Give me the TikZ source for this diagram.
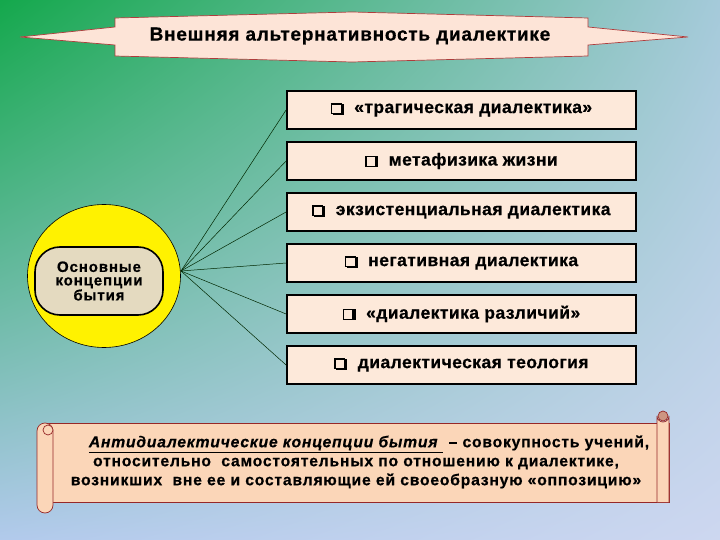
\documentclass[tikz,border=0pt]{standalone}
\usepackage{fontspec}
\setmainfont{Liberation Sans}
\usetikzlibrary{shapes.geometric,shadings}
\definecolor{bgTL}{RGB}{20,168,76}
\definecolor{bgTR}{RGB}{165,202,218}
\definecolor{bgBL}{RGB}{178,202,236}
\definecolor{bgBR}{RGB}{205,215,240}
\definecolor{boxfill}{RGB}{253,233,218}
\definecolor{bannerfill}{RGB}{253,228,215}
\definecolor{bannerline}{RGB}{175,60,60}
\definecolor{corefill}{RGB}{228,218,192}
\definecolor{scrollfill}{RGB}{251,214,184}
\definecolor{scrollline}{RGB}{150,40,40}
\definecolor{curlfill}{RGB}{205,150,130}
\newcommand\qbox{\rlap{\kern1.8pt\raisebox{-1.8pt}{\rule{11pt}{11pt}}}{\fboxsep=0pt\fboxrule=1.3pt\fcolorbox{black}{boxfill}{\rule{0pt}{8.4pt}\rule{8.4pt}{0pt}}}\kern1.8pt}
\begin{document}
\begin{tikzpicture}[x=1pt,y=-1pt,
  itembox/.style={draw=black, line width=1.8pt, fill=boxfill, minimum width=349pt,
    minimum height=38pt, inner sep=0pt,
    font=\bfseries\fontsize{17.5}{18}\selectfont\addfontfeature{LetterSpace=2.5,FakeBold=0.6}},
  fanline/.style={line width=0.5pt, draw=black!85!green},
  scrl/.style={draw=scrollline, line width=0.7pt, fill=scrollfill}]
\useasboundingbox (0,0) rectangle (720,540);
\shade[upper left=bgTL, upper right=bgTR, lower left=bgBL, lower right=bgBR] (0,0) rectangle (720,540);

% title banner
\draw[draw=bannerline, line width=0.7pt, fill=bannerfill]
  (20,37) -- (115,27) -- (115,18) -- (352,12) -- (588,18) -- (588,27) -- (688,37)
  -- (588,45) -- (588,56) -- (352,62) -- (115,56) -- (115,45) -- cycle;
\node[font=\bfseries\fontsize{19}{20}\selectfont\addfontfeature{LetterSpace=4,FakeBold=0.6}] (title) at (350,36) {Внешняя альтернативность диалектике};

% circle
\node[ellipse, draw=black, line width=0.6pt, fill=yellow, minimum width=153pt, minimum height=143pt, inner sep=0pt] (circ) at (104,276) {};
\node[draw=black, line width=1.6pt, rounded corners=25pt, fill=corefill, minimum width=128pt, minimum height=68pt, inner sep=0pt, align=center,
  font=\bfseries\fontsize{15}{13.5}\selectfont\addfontfeature{LetterSpace=6,FakeBold=0.6}] (core) at (99,281) {Основные\\концепции\\бытия};
\coordinate (hub) at (181,271);

% boxes
\node[itembox] (b1) at (461.5,110) {\qbox\ \ «трагическая диалектика»};
\node[itembox] (b2) at (461.5,161) {\qbox\ \ метафизика жизни};
\node[itembox] (b3) at (461.5,212) {\qbox\ \ экзистенциальная диалектика};
\node[itembox] (b4) at (461.5,263) {\qbox\ \ негативная диалектика};
\node[itembox] (b5) at (461.5,314) {\qbox\ \ «диалектика различий»};
\node[itembox] (b6) at (461.5,365) {\qbox\ \ диалектическая теология};
\foreach \b in {b1,b2,b3,b4,b5,b6} \draw[fanline] (hub) -- (\b.west);

% scroll
\draw[scrl] (45,423) -- (669,423) -- (669,502) -- (45,502) -- cycle;
\draw[scrl] (657,502) -- (657,416) arc[start angle=180, end angle=0, radius=6] -- (669,502);
\draw[scrl, fill=curlfill] (663,416) circle[radius=5];
\draw[scrl, rounded corners=8pt] (37,423) rectangle (53,513);
\draw[scrl] (48,430) circle[radius=5];
\node[align=center, font=\bfseries\fontsize{15.7}{19}\selectfont\addfontfeature{LetterSpace=5,FakeBold=0.5}] (def) at (356,462)
  {\hspace{26pt}\underline{\textit{Антидиалектические концепции бытия }} – совокупность учений,\\
   относительно \ самостоятельных по отношению к диалектике,\\
   возникших \ вне ее и составляющие ей своеобразную «оппозицию»};
\end{tikzpicture}
\end{document}
